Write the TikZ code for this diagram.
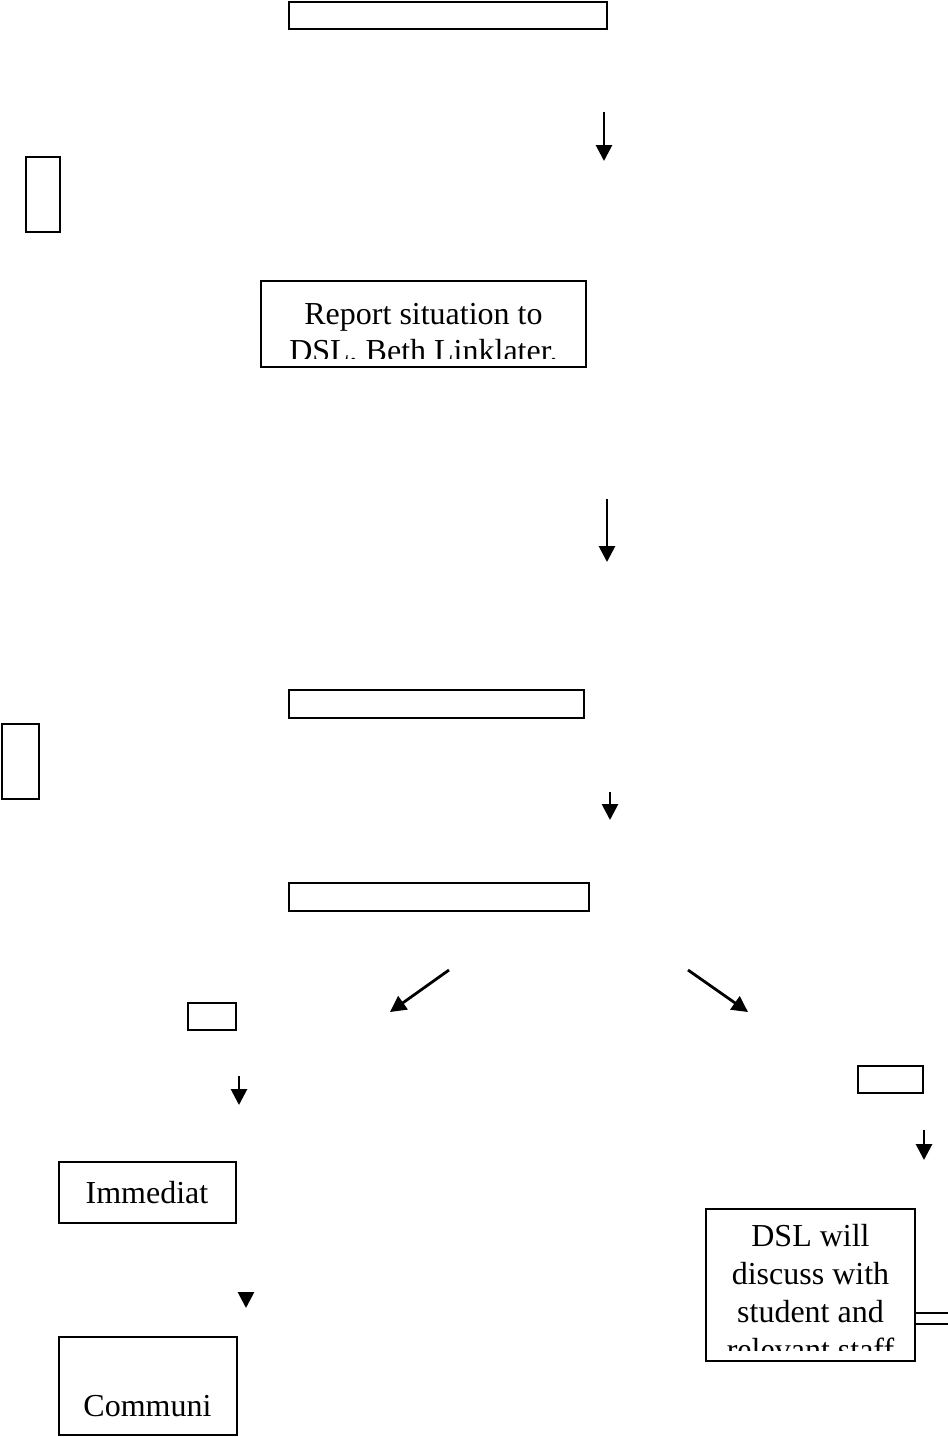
\documentclass[tikz,border=0pt]{standalone}
\usepackage{fontspec}
\setmainfont{Liberation Serif}
\usetikzlibrary{arrows.meta,positioning}
\tikzset{
  panel/.style={draw=black, line width=1.2pt, inner sep=0pt, fill=none},
  words/.style={font=\fontsize{16pt}{19pt}\selectfont, inner sep=0pt, anchor=base},
  flow/.style={-{Triangle[length=8pt,width=8pt]}, line width=1.4pt, draw=black}
}

\begin{document}
\begin{tikzpicture}[x=0.5pt, y=-0.5pt]
  \useasboundingbox (0,0) rectangle (948,1437);

  % upper column
  \node[panel, minimum width=159pt, minimum height=13.5pt] (top) at (448,15.5) {};
  \node[panel, minimum width=17pt, minimum height=37.5pt] (sideA) at (43,194.5) {};
  \node[panel, minimum width=162.5pt, minimum height=43pt] (report) at (423.5,324) {};
  \begin{scope}
    \clip (262,282) rectangle (585,358);
    \node[words] (rep1) at (423.5,324) {Report situation to};
    \node[words] (rep2) at (423.5,361) {DSL, Beth Linklater.};
  \end{scope}
  \node[panel, minimum width=147.5pt, minimum height=14pt] (mid) at (436.5,704) {};
  \node[panel, minimum width=18.5pt, minimum height=37.5pt] (sideB) at (20.5,761.5) {};
  \node[panel, minimum width=150pt, minimum height=14pt] (split) at (439,897) {};

  % left branch
  \node[panel, minimum width=24pt, minimum height=13.5pt] (tagL) at (212,1016.5) {};
  \node[panel, minimum width=88.5pt, minimum height=30.5pt] (now) at (147.5,1192.5) {};
  \node[words] (nowtext) at (147,1203) {Immediat};
  \node[panel, minimum width=89pt, minimum height=49pt] (comm) at (148,1386) {};
  \node[words] (commtext) at (147.5,1416) {Communi};

  % right branch
  \node[panel, minimum width=32.5pt, minimum height=13.5pt] (tagR) at (890.5,1079.5) {};
  \node[panel, minimum width=104.5pt, minimum height=76pt] (dsl) at (810.5,1285) {};
  \begin{scope}
    \clip (706,1210) rectangle (915,1350);
    \node[words] (dsl1) at (810.5,1246) {DSL will};
    \node[words] (dsl2) at (810.5,1284) {discuss with};
    \node[words] (dsl3) at (810.5,1322) {student and};
    \node[words] (dsl4) at (810.5,1360) {relevant staff};
  \end{scope}

  \coordinate (a1s) at (604,112);  \coordinate (a1e) at (604,161);
  \coordinate (a2s) at (607,499);  \coordinate (a2e) at (607,562);
  \coordinate (a3s) at (610,792);  \coordinate (a3e) at (610,820);
  \coordinate (dls) at (449,970);  \coordinate (dle) at (390,1012);
  \coordinate (drs) at (688,970);  \coordinate (dre) at (748,1012);
  \coordinate (a4s) at (239,1076); \coordinate (a4e) at (239,1105);
  \coordinate (a5s) at (924,1130); \coordinate (a5e) at (924,1160);
  \coordinate (a6s) at (246,1292); \coordinate (a6e) at (246,1308);
  \coordinate (edge) at (948,1318.5);

  \draw[flow] (a1s) -- (a1e);
  \draw[flow] (a2s) -- (a2e);
  \draw[flow] (a3s) -- (a3e);
  \draw[flow] (dls) -- (dle);
  \draw[flow] (drs) -- (dre);
  \draw[flow] (a4s) -- (a4e);
  \draw[flow] (a5s) -- (a5e);
  \draw[flow] (a6s) -- (a6e);
  \draw[line width=1.2pt, double, double distance=4.3pt] (dsl.east |- edge) -- (edge);
\end{tikzpicture}
\end{document}
